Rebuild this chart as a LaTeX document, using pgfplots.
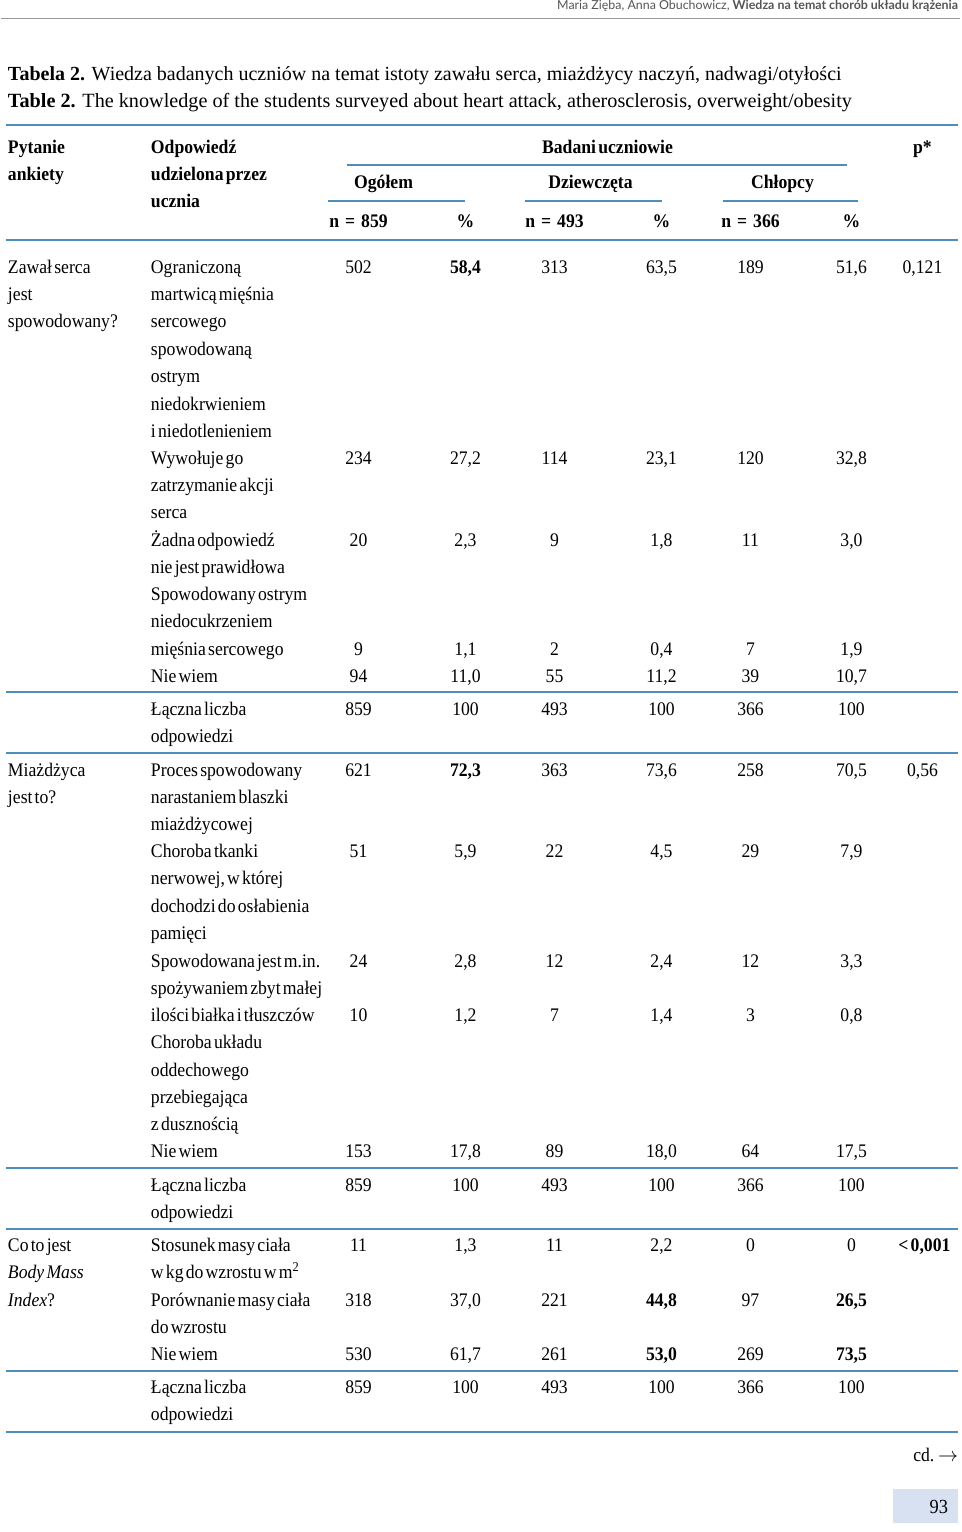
\documentclass[border=0pt]{standalone}
\usepackage{fontspec}
\setmainfont{Liberation Serif}[WordSpace=0.5, FakeStretch=0.92]
\newfontfamily\titlefont{Liberation Serif}
\newfontfamily\hdrfont{Lato}
\usepackage{pgfplots}
\pgfplotsset{compat=1.18}
\usepackage{pgfplotstable}
\definecolor{rulec}{HTML}{4F8EB8}
\definecolor{pagebox}{HTML}{D7E1F1}
\definecolor{hdrgray}{HTML}{555555}

% y = row position (px from top); n = count, p = percent; f = format (0 normal, 1 bold, 2 integer)
\pgfplotstableread{
y    n1  p1   f1 n2  p2   f2 n3  p3   f3
267  502 58.4 1  313 63.5 0  189 51.6 0
458  234 27.2 0  114 23.1 0  120 32.8 0
540  20  2.3  0  9   1.8  0  11  3.0  0
649  9   1.1  0  2   0.4  0  7   1.9  0
676  94  11.0 0  55  11.2 0  39  10.7 0
709  859 100  2  493 100  2  366 100  2
770  621 72.3 1  363 73.6 0  258 70.5 0
851  51  5.9  0  22  4.5  0  29  7.9  0
961  24  2.8  0  12  2.4  0  12  3.3  0
1015 10  1.2  0  7   1.4  0  3   0.8  0
1151 153 17.8 0  89  18.0 0  64  17.5 0
1185 859 100  2  493 100  2  366 100  2
1245 11  1.3  0  11  2.2  0  0   0    2
1300 318 37.0 0  221 44.8 1  97  26.5 1
1354 530 61.7 0  261 53.0 1  269 73.5 1
1387 859 100  2  493 100  2  366 100  2
}\datatab

\newcommand{\decfmt}{\pgfmathprintnumber[assume math mode=true,fixed,fixed zerofill,precision=1,use comma]{\pgfplotspointmeta}}
\newcommand{\intfmt}{\pgfmathprintnumber[assume math mode=true,fixed,precision=0,1000 sep={}]{\pgfplotspointmeta}}

\newcommand{\bodyfont}{\fontsize{9.6}{11}\selectfont}
\tikzset{txt/.style={font=\bodyfont, inner sep=0pt, text height=6.4pt, text depth=0pt}}
\pgfplotsset{cell/.style={only marks, mark=none}}
\newcommand{\tx}[3]{\node[txt,anchor=west] at (axis cs:#1,#2) {#3};}
\newcommand{\tc}[3]{\node[txt,anchor=center] at (axis cs:#1,#2) {#3};}
\newcommand{\bl}[4][1pt]{\draw[rulec,line width=#1] (axis cs:#2,#4) -- (axis cs:#3,#4);}
\newcommand{\nn}[1]{\textbf{n\hspace{3pt}=\hspace{3pt}#1}}

\begin{document}
\begin{tikzpicture}
\begin{axis}[
  width=480pt, height=766pt, scale only axis,
  xmin=0, xmax=960, ymin=0, ymax=1532, y dir=reverse,
  axis lines=none, clip=false, unbounded coords=discard,
  every node near coord/.append style={font=\bodyfont, inner sep=0pt, text height=6.4pt, text depth=0pt, anchor=center},
  point meta=explicit,
]
\path (rel axis cs:0,0) rectangle (rel axis cs:1,1);

% counts
\addplot[cell, nodes near coords={\intfmt}] table[x expr=358, y=y, meta=n1]{\datatab};
\addplot[cell, nodes near coords={\intfmt}] table[x expr=554, y=y, meta=n2]{\datatab};
\addplot[cell, nodes near coords={\intfmt}] table[x expr=750, y=y, meta=n3]{\datatab};
% percents: normal (f=0), bold (f=1), integer (f=2)
\addplot[cell, nodes near coords={\decfmt}] table[x expr={\thisrow{f1}==0 ? 465 : nan}, y=y, meta=p1]{\datatab};
\addplot[cell, nodes near coords={\bfseries\decfmt}] table[x expr={\thisrow{f1}==1 ? 465 : nan}, y=y, meta=p1]{\datatab};
\addplot[cell, nodes near coords={\intfmt}] table[x expr={\thisrow{f1}==2 ? 465 : nan}, y=y, meta=p1]{\datatab};
\addplot[cell, nodes near coords={\decfmt}] table[x expr={\thisrow{f2}==0 ? 661 : nan}, y=y, meta=p2]{\datatab};
\addplot[cell, nodes near coords={\bfseries\decfmt}] table[x expr={\thisrow{f2}==1 ? 661 : nan}, y=y, meta=p2]{\datatab};
\addplot[cell, nodes near coords={\intfmt}] table[x expr={\thisrow{f2}==2 ? 661 : nan}, y=y, meta=p2]{\datatab};
\addplot[cell, nodes near coords={\decfmt}] table[x expr={\thisrow{f3}==0 ? 851 : nan}, y=y, meta=p3]{\datatab};
\addplot[cell, nodes near coords={\bfseries\decfmt}] table[x expr={\thisrow{f3}==1 ? 851 : nan}, y=y, meta=p3]{\datatab};
\addplot[cell, nodes near coords={\intfmt}] table[x expr={\thisrow{f3}==2 ? 851 : nan}, y=y, meta=p3]{\datatab};

% page header
\node[anchor=base east, font=\hdrfont\fontsize{6.2}{8}\selectfont, text=hdrgray, inner sep=0pt] at (axis cs:958,9) {Maria Zięba, Anna Obuchowicz, \textbf{Wiedza na temat chorób układu krążenia}};
\draw[gray!80, line width=0.6pt] (axis cs:0,18) -- (axis cs:960,18);

% title
\node[anchor=base west, font=\titlefont\fontsize{10}{12}\selectfont, inner sep=0pt] at (axis cs:7,80) {\textbf{Tabela 2.} Wiedza badanych uczniów na temat istoty zawału serca, miażdżycy naczyń, nadwagi/otyłości};
\node[anchor=base west, font=\titlefont\fontsize{10.1}{12}\selectfont, inner sep=0pt] at (axis cs:7,107) {\textbf{Table 2.} The knowledge of the students surveyed about heart attack, atherosclerosis, overweight/obesity};

% table rules
\bl{5}{958}{125}
\bl{5}{958}{240}
\bl[0.8pt]{346}{847}{165}
\bl[0.8pt]{327}{464}{201}
\bl[0.8pt]{524}{661}{201}
\bl[0.8pt]{722}{858}{201}
\bl{5}{958}{692}
\bl{5}{958}{753}
\bl{5}{958}{1168}
\bl{5}{958}{1229}
\bl{5}{958}{1371}
\bl{5}{958}{1432}

% header
\tx{7}{147}{\textbf{Pytanie}}
\tx{7}{174}{\textbf{ankiety}}
\tx{150}{147}{\textbf{Odpowiedź}}
\tx{150}{174}{\textbf{udzielona przez}}
\tx{150}{201}{\textbf{ucznia}}
\tc{607}{147}{\textbf{Badani uczniowie}}
\tc{922}{147}{\textbf{p*}}
\tc{383}{182}{\textbf{Ogółem}}
\tc{590}{182}{\textbf{Dziewczęta}}
\tc{782}{182}{\textbf{Chłopcy}}
\tc{358}{221}{\nn{859}}
\tc{465}{221}{\textbf{\%}}
\tc{554}{221}{\nn{493}}
\tc{661}{221}{\textbf{\%}}
\tc{750}{221}{\nn{366}}
\tc{851}{221}{\textbf{\%}}

% first column
\tx{7}{267}{Zawał serca}
\tx{7}{294}{jest}
\tx{7}{321}{spowodowany?}
\tx{7}{770}{Miażdżyca}
\tx{7}{797}{jest to?}
\tx{7}{1245}{Co to jest}
\tx{7}{1272}{\textit{Body Mass}}
\tx{7}{1300}{\textit{Index}?}

% answers
\tx{150}{267}{Ograniczoną}
\tx{150}{294}{martwicą mięśnia}
\tx{150}{321}{sercowego}
\tx{150}{349}{spowodowaną}
\tx{150}{376}{ostrym}
\tx{150}{404}{niedokrwieniem}
\tx{150}{431}{i niedotlenieniem}
\tx{150}{458}{Wywołuje go}
\tx{150}{485}{zatrzymanie akcji}
\tx{150}{512}{serca}
\tx{150}{540}{Żadna odpowiedź}
\tx{150}{567}{nie jest prawidłowa}
\tx{150}{594}{Spowodowany ostrym}
\tx{150}{621}{niedocukrzeniem}
\tx{150}{649}{mięśnia sercowego}
\tx{150}{676}{Nie wiem}
\tx{150}{709}{Łączna liczba}
\tx{150}{736}{odpowiedzi}
\tx{150}{770}{Proces spowodowany}
\tx{150}{797}{narastaniem blaszki}
\tx{150}{824}{miażdżycowej}
\tx{150}{851}{Choroba tkanki}
\tx{150}{878}{nerwowej, w której}
\tx{150}{906}{dochodzi do osłabienia}
\tx{150}{933}{pamięci}
\tx{150}{961}{Spowodowana jest m.in.}
\tx{150}{988}{spożywaniem zbyt małej}
\tx{150}{1015}{ilości białka i tłuszczów}
\tx{150}{1042}{Choroba układu}
\tx{150}{1070}{oddechowego}
\tx{150}{1097}{przebiegająca}
\tx{150}{1124}{z dusznością}
\tx{150}{1151}{Nie wiem}
\tx{150}{1185}{Łączna liczba}
\tx{150}{1212}{odpowiedzi}
\tx{150}{1245}{Stosunek masy ciała}
\tx{150}{1272}{w kg do wzrostu w m\textsuperscript{2}}
\tx{150}{1300}{Porównanie masy ciała}
\tx{150}{1327}{do wzrostu}
\tx{150}{1354}{Nie wiem}
\tx{150}{1387}{Łączna liczba}
\tx{150}{1414}{odpowiedzi}

% p values
\tc{922}{267}{0,121}
\tc{922}{770}{0,56}
\tc{924}{1245}{\textbf{< 0,001}}

% footer
\node[anchor=base east, font=\bodyfont, inner sep=0pt] at (axis cs:958,1461) {cd. $\rightarrow$};
\fill[pagebox] (axis cs:893,1489) rectangle (axis cs:958,1523);
\node[anchor=base east, font=\fontsize{10}{12}\selectfont, inner sep=0pt] at (axis cs:948,1513) {93};
\end{axis}
\end{tikzpicture}
\end{document}
